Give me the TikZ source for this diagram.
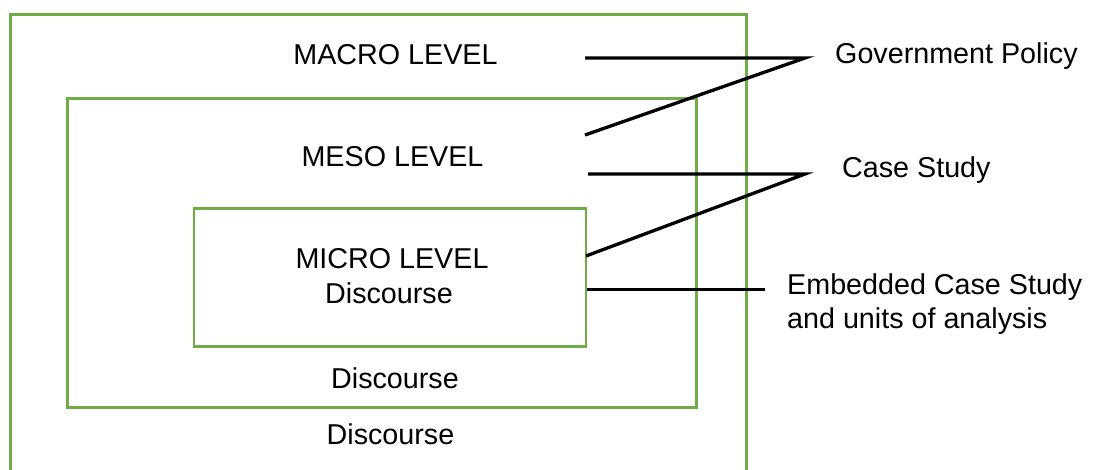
\documentclass[tikz,border=0pt]{standalone}
\usepackage{fontspec}
\setmainfont{Liberation Sans}
\definecolor{boxgreen}{RGB}{112,173,71}
\begin{document}
\begin{tikzpicture}[x=1pt,y=-1pt,
  lvlbox/.style={draw=boxgreen, line width=2.6pt},
  conn/.style={draw=black, line width=3.3pt},
  lbl/.style={inner sep=0pt, font=\fontsize{28.7}{33}\selectfont},
  clbl/.style={lbl, anchor=base},
  llbl/.style={lbl, anchor=base west}]
\useasboundingbox (0,0) rectangle (1095,470);
\clip (0,0) rectangle (1095,470);
% boxes
\node[lvlbox, inner sep=0pt, minimum width=736pt, minimum height=480pt, anchor=north west] (macro) at (9.3,13.3) {};
\node[lvlbox, inner sep=0pt, minimum width=629pt, minimum height=309pt, anchor=north west] (meso) at (66,97) {};
\node[lvlbox, inner sep=0pt, minimum width=392pt, minimum height=138pt, anchor=north west] (micro) at (192.5,207) {};
% labels in boxes
\node[clbl] (tmacro) at (395.5,64.5) {MACRO LEVEL};
\node[clbl] (tmeso) at (392.5,167) {MESO LEVEL};
\node[clbl] (tmicro) at (392,269) {MICRO LEVEL};
\node[clbl] (dmicro) at (389,304) {Discourse};
\node[clbl] (dmeso) at (395,388) {Discourse};
\node[clbl] (dmacro) at (390.5,444) {Discourse};
% right labels
\node[llbl] (gov) at (835,63.5) {Government Policy};
\node[llbl] (case) at (842,178) {Case Study};
\node[llbl] (emb1) at (787,295) {Embedded Case Study};
\node[llbl] (emb2) at (787,328) {and units of analysis};
% connector points
\coordinate (g0) at (585,58);
\coordinate (g1) at (585,135);
\coordinate (gv) at (805,58);
\coordinate (c0) at (588,174);
\coordinate (c1) at (586,256);
\coordinate (cv) at (805,174);
\coordinate (e0) at (587,289.5);
\coordinate (e1) at (765,289.5);
\draw[conn, line join=miter] (g0) -- (gv) -- (g1);
\draw[conn, line join=miter] (c0) -- (cv) -- (c1);
\draw[conn] (e0) -- (e1);
\end{tikzpicture}
\end{document}
